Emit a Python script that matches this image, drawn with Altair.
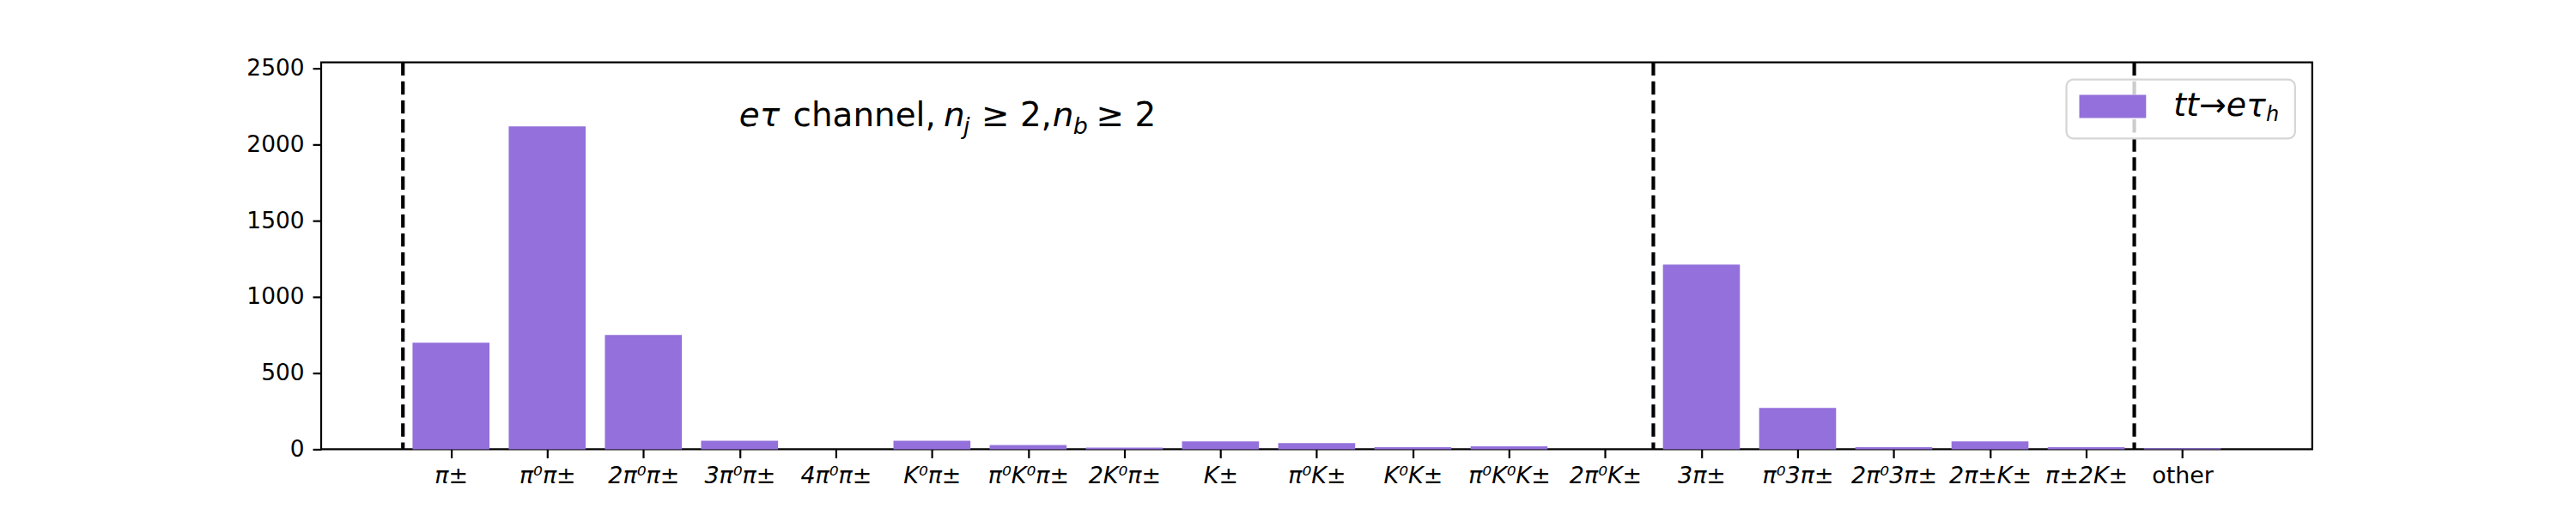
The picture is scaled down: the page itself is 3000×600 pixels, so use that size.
import json
import altair as alt
import pandas as pd

# ---- data ----
categories = ["π±", "π⁰π±", "2π⁰π±", "3π⁰π±", "4π⁰π±", "K⁰π±", "π⁰K⁰π±", "2K⁰π±",
              "K±", "π⁰K±", "K⁰K±", "π⁰K⁰K±", "2π⁰K±", "3π±", "π⁰3π±", "2π⁰3π±",
              "2π±K±", "π±2K±", "other"]
counts = [700, 2120, 750, 56, 0, 56, 28, 11, 52, 41, 13, 19, 0, 1213, 271, 13, 52, 13, 7]
separators = [-0.5, 12.5, 17.5]
y_ticks = [0, 500, 1000, 1500, 2000, 2500]

W, H = 2325, 452
FONT = "DejaVu Sans"
BAR = "#9370DB"

df = pd.DataFrame({"pos": list(range(len(categories))), "label": categories, "count": counts})
xscale = alt.Scale(domain=[-1.35, 19.35], nice=False, zero=False)
yscale = alt.Scale(domain=[0, 2540], nice=False, zero=True)

label_expr = json.dumps(categories, ensure_ascii=False) + "[datum.value]"

bars = alt.Chart(df).transform_calculate(
    x0="datum.pos - 0.4", x1="datum.pos + 0.4"
).mark_bar(color=BAR).encode(
    x=alt.X("x0:Q", scale=xscale,
            axis=alt.Axis(values=list(range(len(categories))), labelExpr=label_expr,
                          title=None, grid=False, domain=False, tickSize=10, tickWidth=2.2,
                          tickColor="black", labelFontSize=27, labelFont=FONT,
                          labelColor="black", labelPadding=8, labelAngle=0,
                          labelFontStyle={"condition": {"test": "datum.value == 18", "value": "normal"},
                                          "value": "italic"})),
    x2="x1:Q",
    y=alt.Y("count:Q", scale=yscale,
            axis=alt.Axis(values=y_ticks, format="d", title=None, grid=False, domain=False,
                          tickSize=10, tickWidth=2.2, tickColor="black", labelFontSize=26.5,
                          labelFont=FONT, labelColor="black", labelPadding=10)),
    y2=alt.datum(0),
)

rules = alt.Chart(pd.DataFrame({"sep": separators})).mark_rule(
    color="black", strokeWidth=4.2, strokeDash=[15.5, 6.7]
).encode(x=alt.X("sep:Q", scale=xscale))

one = pd.DataFrame({"a": [0]})

def txt(text, x, y, size, style="normal"):
    return alt.Chart(one).mark_text(text=text, font=FONT, fontSize=size, fontStyle=style,
                                    align="left", baseline="alphabetic", color="black").encode(
        x=alt.value(x), y=alt.value(y))

# annotation "eτ channel, n_j ≥ 2, n_b ≥ 2"
ann = [
    txt("eτ", 488, 75, 39, "italic"),
    txt("channel,", 551, 75, 39),
    txt("n", 727, 75, 39, "italic"),
    txt("j", 750, 84, 27, "italic"),
    txt("≥ 2,", 771, 75, 39),
    txt("n", 854, 75, 39, "italic"),
    txt("b", 878, 84, 27, "italic"),
    txt("≥ 2", 905, 75, 39),
]

# legend
legend_box = alt.Chart(one).mark_rect(
    fill="white", fillOpacity=0.8, stroke="#d5d5d5", strokeWidth=2.2, cornerRadius=8
).encode(x=alt.value(2038), x2=alt.value(2305), y=alt.value(20), y2=alt.value(89))
legend_patch = alt.Chart(one).mark_rect(fill=BAR).encode(
    x=alt.value(2053), x2=alt.value(2131), y=alt.value(38), y2=alt.value(65))
leg_text = [
    txt("tt→eτ", 2163, 63, 38, "italic"),
    txt("h", 2271, 69, 24, "italic"),
]

chart = alt.layer(bars, rules, legend_box, legend_patch, *ann, *leg_text).properties(
    width=W, height=H,
    autosize=alt.AutoSizeParams(type="none"),
    padding={"left": 367, "top": 64, "right": 300, "bottom": 76},
    background="white",
).configure_view(stroke="black", strokeWidth=2.2)

chart.save("out.html", embed_options={"renderer": "svg", "actions": False})
